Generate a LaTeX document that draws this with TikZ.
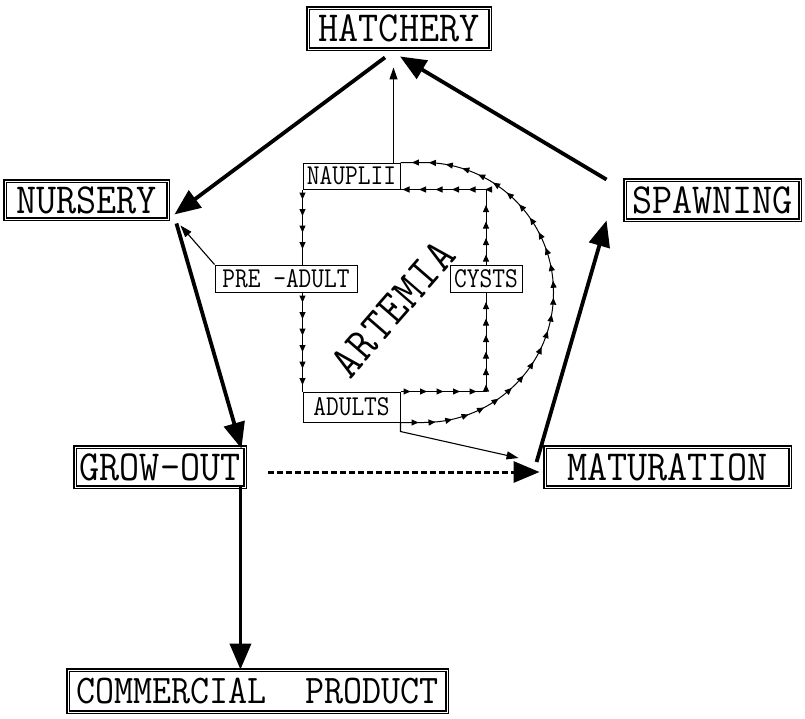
\documentclass[tikz,border=0pt]{standalone}
\usepackage{fontspec}
\usetikzlibrary{arrows.meta,calc,decorations.markings}
\newcommand{\tallbig}[1]{\scalebox{1}[1.1]{#1}}
\newcommand{\tallsmall}[1]{\scalebox{1.03}[1.2]{#1}}
\begin{document}
\begin{tikzpicture}[x=1pt,y=-1pt,
 bigbox/.style={draw=white, line width=0.9pt, preaction={draw=black, line width=3.6pt}, inner sep=0pt, font=\fontsize{39}{39}\selectfont\ttfamily},
 smallbox/.style={draw, line width=1pt, inner sep=0pt, font=\fontsize{24}{24}\selectfont\ttfamily},
 bigarrow/.style={line width=3.8pt, -{Triangle[length=26pt,width=21pt]}},
 thinarrow/.style={line width=1.1pt, -{Triangle[length=12pt,width=8pt]}},
 chainline/.style={line width=1pt, postaction=decorate, decoration={markings, mark=between positions 10pt and 1 step 16.5pt with {\arrow{Triangle[length=7pt,width=6pt]}}}},
 arcline/.style={line width=1pt, postaction=decorate, decoration={markings, mark=between positions 18pt and 1 step 17pt with {\arrow{Triangle[length=7pt,width=6pt]}}}},
]
\useasboundingbox (0,0) rectangle (805,718);

% main boxes
\node[bigbox, minimum width=182pt, minimum height=41pt] (HAT) at (399,28.5) {\tallbig{HATCHERY}};
\node[bigbox, minimum width=163pt, minimum height=38pt] (NUR) at (86.5,200) {\tallbig{NURSERY}};
\node[bigbox, minimum width=175pt, minimum height=40pt] (SPA) at (712.5,200) {\tallbig{SPAWNING}};
\node[bigbox, minimum width=245pt, minimum height=40pt] (MAT) at (667.5,467) {\tallbig{MATURATION}};
\node[bigbox, minimum width=170pt, minimum height=40pt] (GRO) at (160,467) {\tallbig{GROW-OUT}};
\node[bigbox, minimum width=379pt, minimum height=42pt, font=\fontsize{37}{37}\selectfont\ttfamily] (COM) at (257.5,691) {\tallbig{COMMERCIAL\ \ PRODUCT}};

% artemia boxes
\node[smallbox, minimum width=97pt, minimum height=26pt] (NAU) at (351.5,176) {\tallsmall{NAUPLII}};
\node[smallbox, minimum width=142pt, minimum height=27pt] (PRE) at (286,278.5) {\tallsmall{PRE -ADULT}};
\node[smallbox, minimum width=72pt, minimum height=27pt] (CYS) at (486,278.5) {\tallsmall{CYSTS}};
\node[smallbox, minimum width=97pt, minimum height=30pt] (ADU) at (351.5,407) {\tallsmall{ADULTS}};

\node[rotate=49, inner sep=0pt, font=\fontsize{43}{43}\selectfont\ttfamily] (ART) at (393,309)
  {\tallbig{A\kern1.5pt R\kern1.5pt T\kern1.5pt E\kern1.5pt M\kern1.5pt I\kern1.5pt A}};

% artemia cycle
\draw[chainline] (NAU.south west) -- (NAU.south west |- PRE.north);
\draw[chainline] (NAU.south west |- PRE.south) -- (ADU.north west);
\draw[chainline] (ADU.north east) -| (CYS.south);
\draw[chainline] (CYS.north) |- (NAU.south east);
\draw[arcline] (ADU.south east) -- ($(ADU.south east)+(23,0)$) arc[start angle=-90, end angle=90, radius=130pt] -- (NAU.north east);

% thin arrows
\coordinate (nautop) at ($(NAU.north east)+(-7,0)$);
\draw[thinarrow] (nautop) -- ($(nautop |- HAT.south)+(0,18)$);
\draw[thinarrow] (PRE.north west) -- ($(NUR.south east)+(12,6)$);
\draw[thinarrow] (ADU.south east) -- ($(ADU.south east)+(0,9)$) -- ($(MAT.west)+(-26,-9)$);

% thick arrows
\draw[bigarrow] ($(HAT.south)+(-14,8)$) -- ($(NUR.south east)+(6,-5)$);
\draw[bigarrow] ($(SPA.north west)+(-18,0)$) -- ($(HAT.south)+(1,7)$);
\draw[bigarrow] ($(MAT.west)+(-8,-5)$) -- ($(SPA.south west)+(-18,0)$);
\draw[bigarrow] ($(NUR.south east)+(8,4)$) -- ($(GRO.north east)+(-4,2)$);
\coordinate (gbot) at ($(GRO.south east)+(-5,0)$);
\draw[bigarrow] (gbot) -- (gbot |- COM.north);
\draw[bigarrow, dash pattern=on 6pt off 3pt, line width=3pt] ($(GRO.east)+(23,5)$) -- ($(MAT.west)+(-5,5)$);
\end{tikzpicture}
\end{document}
